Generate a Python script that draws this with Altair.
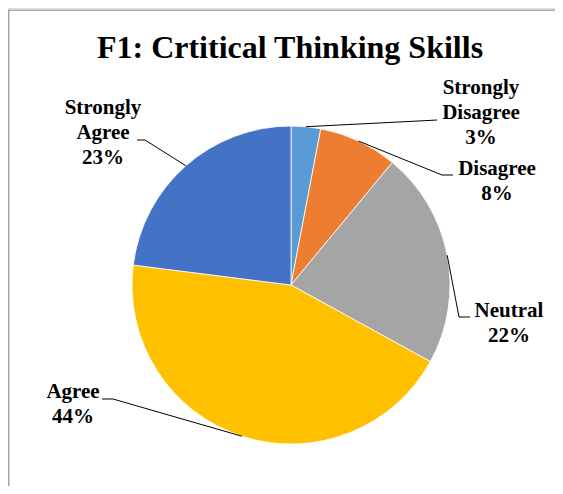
import math
import altair as alt
import pandas as pd

# ---- data ----
categories = ["Strongly Disagree", "Disagree", "Neutral", "Agree", "Strongly Agree"]
percents = [3, 8, 22, 44, 23]
label_lines = [["Strongly", "Disagree"], ["Disagree"], ["Neutral"], ["Agree"], ["Strongly", "Agree"]]
colors = ["#5B9BD5", "#ED7D31", "#A5A5A5", "#FFC000", "#4472C4"]
title_text = "F1: Crtitical Thinking Skills"

# ---- layout (chart pixels) ----
W, H = 547, 478
CX, CY, R = 283, 277, 159
FONT = "Liberation Serif"
layout = {
    "Strongly Disagree": dict(tx=473, ty=86, elbow=(420, 112.5), end=(429, 112)),
    "Disagree": dict(tx=489, ty=167, elbow=(434, 167), end=(445, 167)),
    "Neutral": dict(tx=501, ty=309, elbow=(451, 309), end=(462, 309)),
    "Agree": dict(tx=65, ty=390, elbow=(105, 391), end=(94, 391)),
    "Strongly Agree": dict(tx=95, ty=106, elbow=(137, 132), end=(129, 132)),
}

df = pd.DataFrame({"cat": categories, "pct": percents, "idx": list(range(len(categories)))})

total = sum(percents)
cum = 0
line_rows, text_rows = [], []
for cat, p, lines in zip(categories, percents, label_lines):
    a = 2 * math.pi * (cum + p / 2) / total
    cum += p
    sx, sy = CX + R * math.sin(a), CY - R * math.cos(a)
    L = layout[cat]
    pts = [(sx, sy), L["elbow"], L["end"]]
    for i, (x, y) in enumerate(pts):
        line_rows.append({"cat": cat, "o": i, "x": x, "y": y})
    text_rows.append({"cat": cat, "x": L["tx"], "y": L["ty"], "txt": lines + [f"{p}%"]})

lines_df = pd.DataFrame(line_rows)
text_df = pd.DataFrame(text_rows)

pie = alt.Chart(df).mark_arc(radius=R, stroke="white", strokeWidth=0.8).encode(
    theta=alt.Theta("pct:Q", stack=True),
    color=alt.Color("cat:N", scale=alt.Scale(domain=categories, range=colors), legend=None),
    order=alt.Order("idx:Q"),
    x=alt.value(CX),
    y=alt.value(CY),
)

leaders = alt.Chart(lines_df).mark_line(color="black", strokeWidth=1).encode(
    x=alt.X("x:Q", scale=None, axis=None),
    y=alt.Y("y:Q", scale=None, axis=None),
    detail="cat:N",
    order="o:Q",
)

labels = alt.Chart(text_df).mark_text(
    font=FONT, fontSize=21, fontWeight="bold", color="black",
    align="center", baseline="alphabetic", lineHeight=25,
).encode(
    x=alt.X("x:Q", scale=None, axis=None),
    y=alt.Y("y:Q", scale=None, axis=None),
    text="txt",
)

title = alt.Chart(pd.DataFrame({"t": [title_text]})).mark_text(
    font=FONT, fontSize=32, fontWeight="bold", color="black",
    align="center", baseline="alphabetic",
).encode(x=alt.value(282), y=alt.value(50), text="t:N")

border_df = pd.DataFrame({"k": [0]})
left_border = alt.Chart(border_df).mark_rule(color="#A6A6A6", strokeWidth=1.5).encode(
    x=alt.value(0.75), y=alt.value(2), y2=alt.value(H))
top_border = alt.Chart(border_df).mark_rule(color="#A6A6A6", strokeWidth=1.5).encode(
    x=alt.value(0), x2=alt.value(W), y=alt.value(2.25))

chart = alt.layer(left_border, top_border, pie, leaders, labels, title).properties(
    width=W, height=H, autosize=alt.AutoSizeParams(type="none"), padding=0,
).configure_view(stroke=None).configure(background="white")

chart.save("out.html", embed_options={"renderer": "svg", "actions": False})
